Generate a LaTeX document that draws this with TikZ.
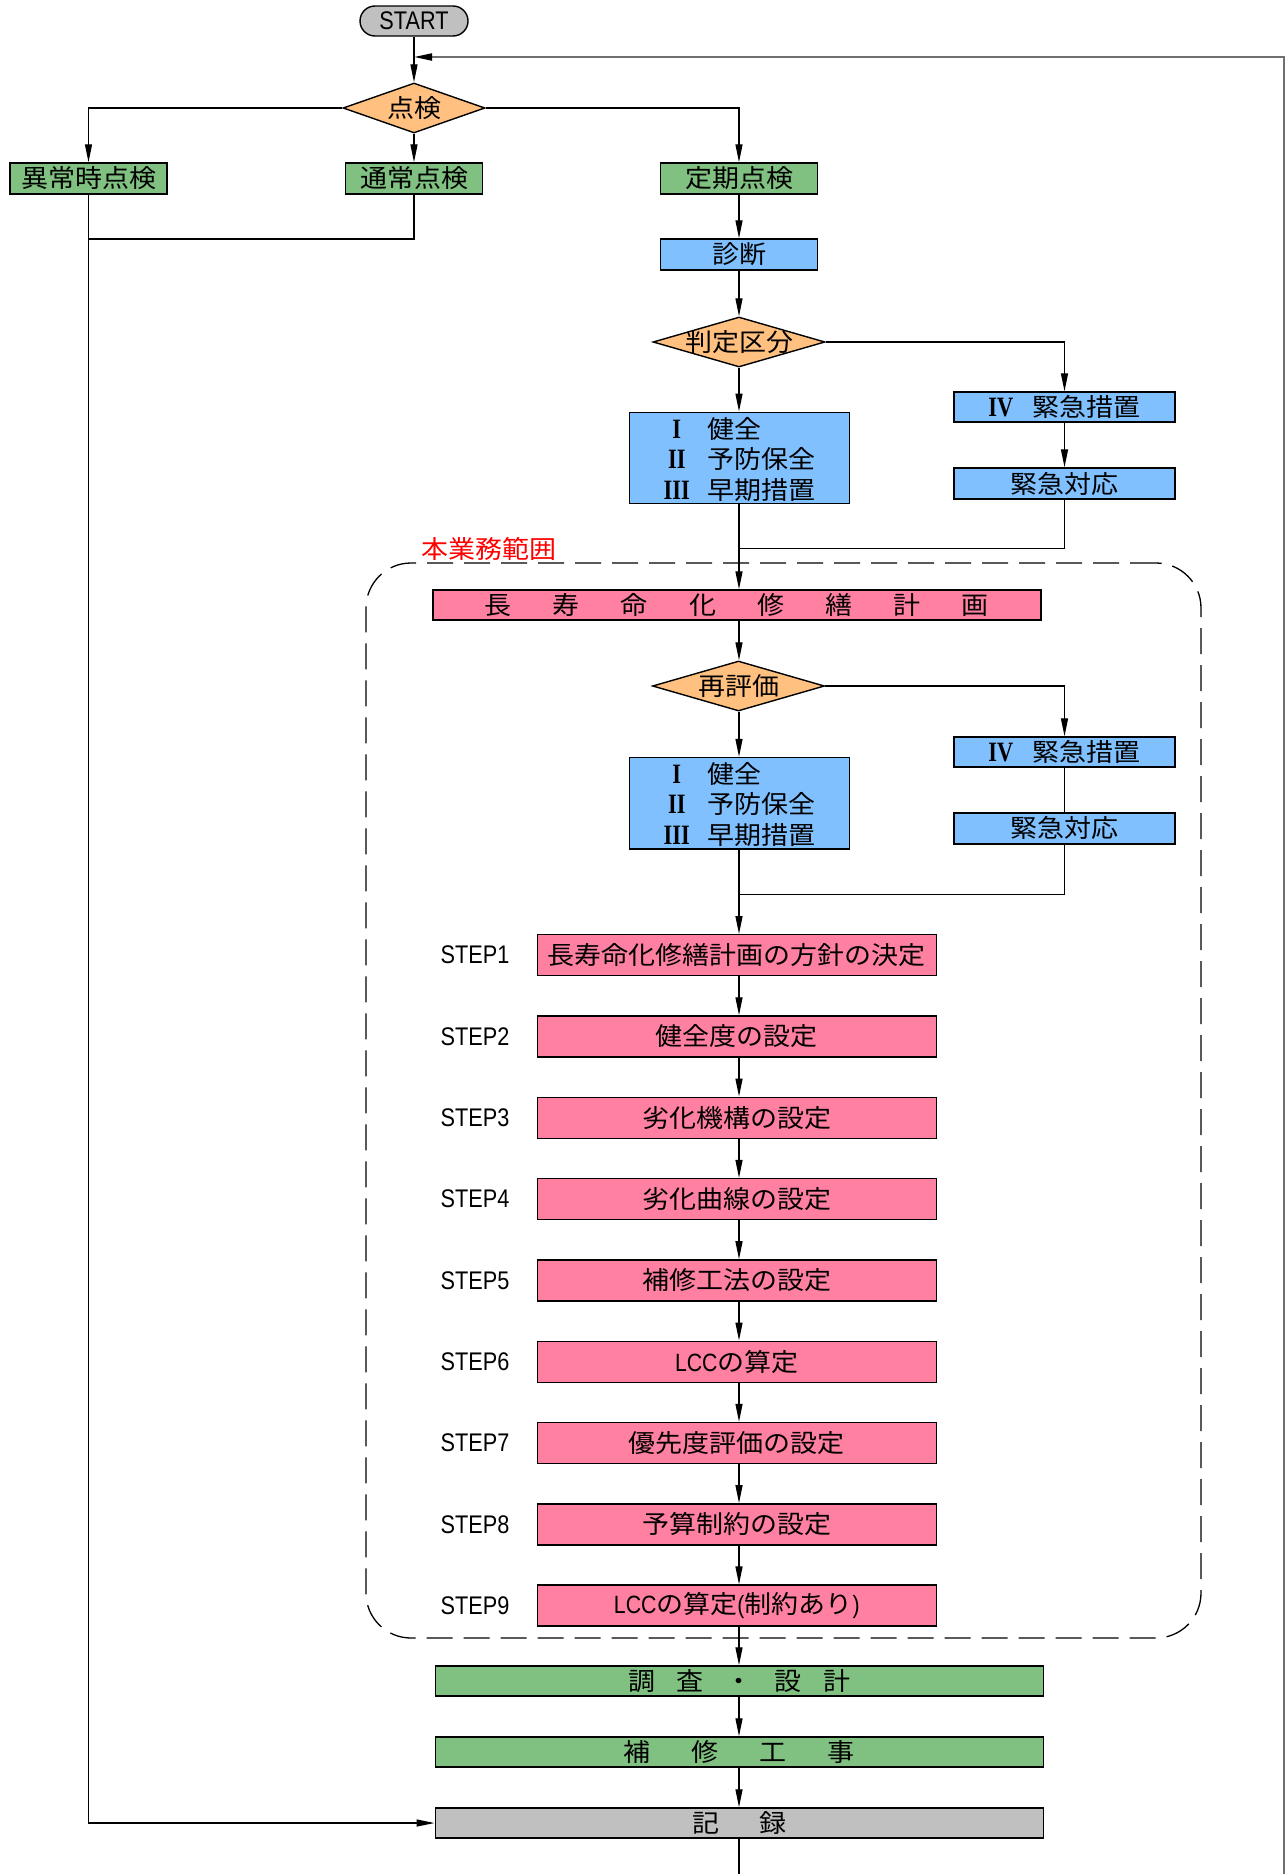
\documentclass[tikz,border=0pt]{standalone}
\usepackage{fontspec}
\setmainfont{Liberation Sans}
\newfontfamily\jpfont[FakeStretch=1.08]{Noto Sans CJK JP}
\newfontfamily\latfont[FakeStretch=0.85]{Liberation Sans}
\newfontfamily\romfont[FakeStretch=0.8]{Liberation Serif}
\usetikzlibrary{shapes.geometric,arrows.meta}
\definecolor{bxgreen}{RGB}{128,192,128}
\definecolor{bxblue}{RGB}{128,192,255}
\definecolor{bxorange}{RGB}{255,192,128}
\definecolor{bxpink}{RGB}{255,128,160}
\definecolor{bxgray}{RGB}{192,192,192}
\definecolor{loopgray}{RGB}{112,112,112}
\makeatletter
\newcommand\spreadchars[2]{\@tfor\sc@c:=#2\do{\makebox[#1]{\sc@c}}}
\makeatother
\newcommand\LatinTxt[1]{{\latfont #1}}
\newcommand\RomNum[1]{{\romfont\bfseries\fontsize{28}{30.5}\selectfont #1}}
\newcommand\GradeTable{\raisebox{-4.5pt}[\height][\depth]{\begin{tabular}{@{}c@{\hspace{17.5pt}}l@{}}\RomNum{I}&健全\\\RomNum{II}&予防保全\\\RomNum{III}&早期措置\end{tabular}}}
\begin{document}
\begin{tikzpicture}[x=1pt,y=-1pt,
  every node/.style={font=\jpfont\fontsize{25}{30.5}\selectfont, inner sep=0pt},
  basebx/.style={draw=black, line width=1.4pt, rectangle, inner sep=0pt, minimum height=30pt},
  gbx/.style={basebx, fill=bxgreen},
  bbx/.style={basebx, fill=bxblue},
  pbx/.style={basebx, fill=bxpink},
  ybx/.style={basebx, fill=bxgray},
  dmd/.style={draw=black, line width=1.4pt, diamond, fill=bxorange, inner sep=0pt, minimum width=172pt, minimum height=50pt},
  cline/.style={line width=1.3pt, draw=black},
  carr/.style={cline, -{Triangle[length=18pt,width=7pt]}},
  steplbl/.style={font=\latfont\fontsize{25.5}{30}\selectfont},
  loopline/.style={line width=2pt, draw=loopgray}
]
\useasboundingbox (0,0) rectangle (1286,1874);

% scope of work (dashed)
\node[draw=black, line width=1.3pt, dash pattern=on 26pt off 11pt, rounded corners=45pt,
      minimum width=835pt, minimum height=1075pt, inner sep=0pt] (zone) at (783.5,1100.5) {};
\node[text=red] (zonelbl) at (489,549) {本業務範囲};

% coordinates
\coordinate (j0) at (88.5,239);
\coordinate (j1) at (739,548.7);
\coordinate (j2) at (739,894.3);
\coordinate (j3) at (739,1874);
\coordinate (lb) at (1284,1874);
\coordinate (lt) at (1284,57);
\coordinate (lj) at (414,57);

% nodes
\node[ybx, rounded corners=15pt, minimum width=108pt, minimum height=30pt,
      font=\latfont\fontsize{25.5}{30}\selectfont] (start) at (414,21) {START};
\node[dmd, minimum width=142pt] (d1) at (414,108) {};
\node (d1t) at (d1) {点検};
\node[gbx, minimum width=157pt, minimum height=31pt] (ijo) at (88.5,178.5) {異常時点検};
\node[gbx, minimum width=137pt, minimum height=31pt] (tsujo) at (414,178.5) {通常点検};
\node[gbx, minimum width=157pt, minimum height=31pt] (teiki) at (739,178.5) {定期点検};
\node[bbx, minimum width=157pt, minimum height=31pt] (shindan) at (739,254.5) {診断};
\node[dmd] (d2) at (739,342) {};
\node (d2t) at (d2) {判定区分};
\node[bbx, minimum width=221pt] (k1) at (1064.5,407) {\RomNum{IV}\hspace{19.5pt}緊急措置};
\node[bbx, minimum width=221pt, minimum height=31pt] (o1) at (1064.5,483.5) {緊急対応};
\node[bbx, minimum width=220pt, minimum height=91pt] (h1) at (739.5,458) {\GradeTable};

\node[pbx, minimum width=608pt] (plan) at (736.8,605) {\spreadchars{68.2pt}{長寿命化修繕計画}};
\node[dmd] (d3) at (738.5,686) {};
\node (d3t) at (d3) {再評価};
\node[bbx, minimum width=221pt] (k2) at (1064.5,752) {\RomNum{IV}\hspace{19.5pt}緊急措置};
\node[bbx, minimum width=221pt, minimum height=31pt] (o2) at (1064.5,828.3) {緊急対応};
\node[bbx, minimum width=220pt, minimum height=91pt] (h2) at (739.5,803.3) {\GradeTable};

\foreach \i/\t in {1/{長寿命化修繕計画の方針の決定},2/{健全度の設定},3/{劣化機構の設定},
  4/{劣化曲線の設定},5/{補修工法の設定},6/{\LatinTxt{LCC}の算定},7/{優先度評価の設定},
  8/{予算制約の設定},9/{\LatinTxt{LCC}の算定\LatinTxt{(}制約あり\LatinTxt{)}}}{
  \pgfmathsetmacro\yy{955.2+81.3*(\i-1)}
  \node[pbx, minimum width=399pt, minimum height=41pt] (s\i) at (736.8,\yy) {\t};
  \node[steplbl] (sl\i) at (475,\yy) {STEP\i};
}

\node[gbx, minimum width=608pt] (chousa) at (739.2,1681) {\spreadchars{48.7pt}{調査・設計}};
\node[gbx, minimum width=608pt] (hoshu) at (739.2,1752) {\spreadchars{68pt}{補修工事}};
\node[ybx, minimum width=608pt] (kiroku) at (739.2,1823) {\spreadchars{67pt}{記録}};

% connectors
\draw[loopline, -{Triangle[length=18pt,width=7pt,color=black]}] (lb) -- (lt) -- (lj);
\draw[carr] (start) -- (d1);
\draw[carr] (d1.west) -| (ijo.north);
\draw[carr] (d1) -- (tsujo);
\draw[carr] (d1.east) -| (teiki.north);
\draw[cline] (tsujo.south) |- (j0);
\draw[carr] (ijo.south) |- (kiroku.west);
\draw[carr] (teiki) -- (shindan);
\draw[carr] (shindan) -- (d2);
\draw[carr] (d2.east) -| (k1.north);
\draw[carr] (d2.south) -- (d2.south |- h1.north);
\draw[carr] (k1) -- (o1);
\draw[cline] (o1.south) |- (j1);
\draw[carr] (h1.south -| j1) -- (plan.north -| j1);
\draw[carr] (plan.south -| j1) -- (d3.north -| j1);
\draw[carr] (d3.east) -| (k2.north);
\draw[carr] (d3.south -| j2) -- (h2.north -| j2);
\draw[cline] (k2) -- (o2);
\draw[cline] (o2.south) |- (j2);
\draw[carr] (h2.south -| j2) -- (s1.north -| j2);
\foreach \i in {1,...,8}{
  \pgfmathtruncatemacro\jj{\i+1}
  \draw[carr] (s\i.south -| j2) -- (s\jj.north -| j2);
}
\draw[carr] (s9.south -| j2) -- (chousa.north -| j2);
\draw[carr] (chousa.south -| j2) -- (hoshu.north -| j2);
\draw[carr] (hoshu.south -| j2) -- (kiroku.north -| j2);
\draw[cline] (kiroku.south -| j2) -- (j3);
\end{tikzpicture}
\end{document}
